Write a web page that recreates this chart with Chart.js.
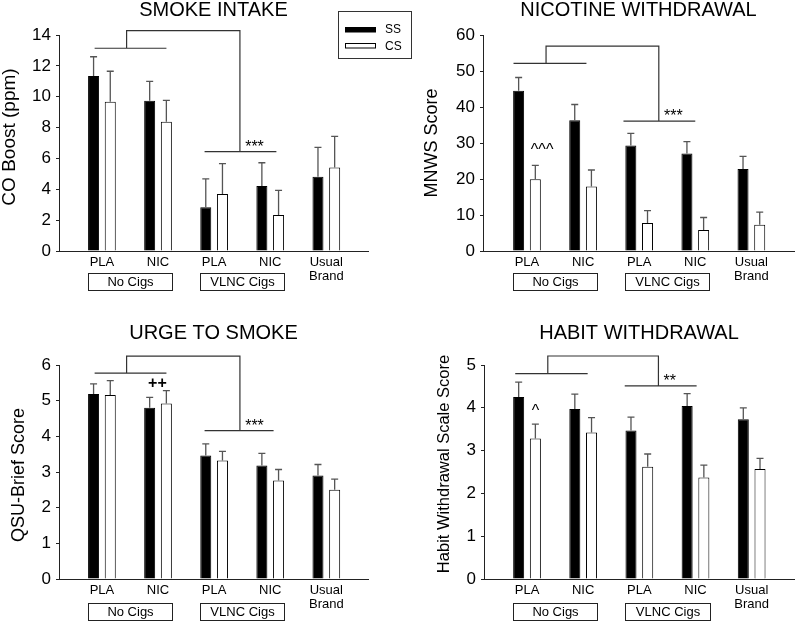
<!DOCTYPE html>
<html>
<head>
<meta charset="utf-8">
<script src="https://cdn.jsdelivr.net/npm/chart.js@4.4.1/dist/chart.umd.min.js"></script>
<style>
  html, body { margin: 0; padding: 0; background: #fff; }
  body { width: 797px; height: 622px; position: relative; overflow: hidden; }
  .panel { position: absolute; }
  canvas { display: block; }
</style>
</head>
<body>
<div class="panel" style="left:0;top:0"><canvas id="c1" width="420" height="311"></canvas></div>
<div class="panel" style="left:0;top:311px"><canvas id="c3" width="420" height="311"></canvas></div>
<div class="panel" style="left:400px;top:0"><canvas id="c2" width="397" height="311"></canvas></div>
<div class="panel" style="left:400px;top:311px"><canvas id="c4" width="397" height="311"></canvas></div>
<script>
const categories = ['PLA', 'NIC', 'PLA', 'NIC', ['Usual', 'Brand']];
const groupLabels = ['No Cigs', 'VLNC Cigs'];
const seriesNames = ['SS', 'CS'];

// smoke intake, CO boost (ppm)
const smokeSS = [11.34, 9.74, 2.83, 4.21, 4.82];
const smokeSSErr = [1.25, 1.25, 1.84, 1.51, 1.90];
const smokeCS = [9.68, 8.38, 3.69, 2.33, 5.42];
const smokeCSErr = [1.97, 1.38, 1.97, 1.60, 2.01];

// nicotine withdrawal, MNWS
const mnwsSS = [44.5, 36.3, 29.3, 27.1, 22.8];
const mnwsSSErr = [3.7, 4.4, 3.4, 3.3, 3.5];
const mnwsCS = [19.9, 17.9, 7.8, 5.8, 7.3];
const mnwsCSErr = [3.9, 4.6, 3.4, 3.5, 3.5];

// urge to smoke, QSU-Brief
const qsuSS = [5.19, 4.80, 3.46, 3.18, 2.90];
const qsuSSErr = [0.28, 0.29, 0.33, 0.34, 0.31];
const qsuCS = [5.16, 4.92, 3.32, 2.76, 2.50];
const qsuCSErr = [0.40, 0.36, 0.26, 0.31, 0.30];

// habit withdrawal scale
const habitSS = [4.25, 3.97, 3.47, 4.04, 3.73];
const habitSSErr = [0.35, 0.35, 0.31, 0.29, 0.27];
const habitCS = [3.28, 3.42, 2.62, 2.37, 2.57];
const habitCSErr = [0.34, 0.35, 0.30, 0.29, 0.25];

const FONT = "'Liberation Sans', Arial, sans-serif";

const panels = [
  { id: 'c1', title: 'SMOKE INTAKE', yTitle: 'CO Boost (ppm)', ss: smokeSS, ssErr: smokeSSErr, cs: smokeCS, csErr: smokeCSErr,
    yMax: 14, yStep: 2, xMin: -0.765, xMax: 4.743, yw: 59, padTop: 35, padRight: 52, xh: 60,
    titleY: 10, yTitleX: 9.5, yTitleY: 137, yTitleSize: 19, boxTop: 22, boxBot: 39,
    bracket: { left: [-0.13, 1.15, 13.14], stemL: 0.44, top: 14.28, stemR: 2.46, right: [1.83, 3.11, 6.44] },
    marks: [{ t: '***', x: 2.72, y: 6.44 }], legend: true },
  { id: 'c2', title: 'NICOTINE WITHDRAWAL', yTitle: 'MNWS Score', ss: mnwsSS, ssErr: mnwsSSErr, cs: mnwsCS, csErr: mnwsCSErr,
    yMax: 60, yStep: 10, xMin: -0.784, xMax: 4.76, yw: 83, padTop: 35, padRight: 3, xh: 60,
    titleY: 10, yTitleX: 32, yTitleY: 143, yTitleSize: 18, boxTop: 22, boxBot: 39,
    bracket: { left: [-0.24, 1.06, 52.1], stemL: 0.34, top: 56.9, stemR: 2.35, right: [1.72, 3.0, 36.1] },
    marks: [{ t: '***', x: 2.61, y: 36.1 }, { t: '^^^', x: 0.27, y: 26.8 }] },
  { id: 'c3', title: 'URGE TO SMOKE', yTitle: 'QSU-Brief Score', ss: qsuSS, ssErr: qsuSSErr, cs: qsuCS, csErr: qsuCSErr,
    yMax: 6, yStep: 1, xMin: -0.765, xMax: 4.743, yw: 59, padTop: 54, padRight: 52, xh: 43,
    titleY: 22.5, yTitleX: 19, yTitleY: 164, yTitleSize: 18, boxTop: 24, boxBot: 41,
    bracket: { left: [-0.13, 1.15, 5.77], stemL: 0.44, top: 6.25, stemR: 2.46, right: [1.83, 3.06, 4.16] },
    marks: [{ t: '***', x: 2.72, y: 4.16 }, { t: '++', x: 0.99, y: 5.36, bold: true }] },
  { id: 'c4', title: 'HABIT WITHDRAWAL', yTitle: 'Habit Withdrawal Scale Score', ss: habitSS, ssErr: habitSSErr, cs: habitCS, csErr: habitCSErr,
    yMax: 5, yStep: 1, xMin: -0.766, xMax: 4.754, yw: 84, padTop: 54, padRight: 3, xh: 43,
    titleY: 22.5, yTitleX: 44, yTitleY: 153, yTitleSize: 16.5, boxTop: 24, boxBot: 41,
    bracket: { left: [-0.21, 1.08, 4.8], stemL: 0.37, top: 5.21, stemR: 2.34, right: [1.74, 3.02, 4.51] },
    marks: [{ t: '**', x: 2.54, y: 4.51 }, { t: '^', x: 0.15, y: 3.81 }] }
];

const errorBars = {
  id: 'errorBars',
  afterDatasetsDraw(chart) {
    const ctx = chart.ctx, y = chart.scales.y;
    ctx.save();
    ctx.strokeStyle = '#555';
    ctx.lineWidth = 1.3;
    chart.data.datasets.forEach((ds, di) => {
      chart.getDatasetMeta(di).data.forEach((bar, i) => {
        const top = y.getPixelForValue(ds.data[i].y + ds.errors[i]);
        ctx.beginPath();
        ctx.moveTo(bar.x, bar.y);
        ctx.lineTo(bar.x, top);
        ctx.moveTo(bar.x - 3.5, top);
        ctx.lineTo(bar.x + 3.5, top);
        ctx.stroke();
      });
    });
    ctx.restore();
  }
};

const extras = {
  id: 'extras',
  afterDraw(chart, args, p) {
    const ctx = chart.ctx, xs = chart.scales.x, ys = chart.scales.y, area = chart.chartArea;
    const X = v => xs.getPixelForValue(v), Y = v => ys.getPixelForValue(v);
    ctx.save();
    ctx.fillStyle = '#000';

    // title
    ctx.font = '20px ' + FONT;
    ctx.textAlign = 'center';
    ctx.textBaseline = 'middle';
    ctx.fillText(p.title, (area.left + area.right) / 2, p.titleY);

    // y axis title
    ctx.save();
    ctx.translate(p.yTitleX, p.yTitleY);
    ctx.rotate(-Math.PI / 2);
    ctx.font = p.yTitleSize + 'px ' + FONT;
    ctx.fillText(p.yTitle, 0, 0);
    ctx.restore();

    // brackets
    const b = p.bracket;
    ctx.strokeStyle = '#333';
    ctx.lineWidth = 1.2;
    ctx.beginPath();
    ctx.moveTo(X(b.left[0]), Y(b.left[2]));
    ctx.lineTo(X(b.left[1]), Y(b.left[2]));
    ctx.moveTo(X(b.stemL), Y(b.left[2]));
    ctx.lineTo(X(b.stemL), Y(b.top));
    ctx.lineTo(X(b.stemR), Y(b.top));
    ctx.lineTo(X(b.stemR), Y(b.right[2]));
    ctx.moveTo(X(b.right[0]), Y(b.right[2]));
    ctx.lineTo(X(b.right[1]), Y(b.right[2]));
    ctx.stroke();

    // significance marks
    ctx.textBaseline = 'alphabetic';
    p.marks.forEach(m => {
      ctx.font = (m.bold ? 'bold ' : '') + '16px ' + FONT;
      ctx.fillText(m.t, X(m.x), Y(m.y));
    });

    // group boxes under the axis
    const base = area.bottom;
    ctx.font = '13px ' + FONT;
    ctx.textBaseline = 'middle';
    ctx.lineWidth = 1;
    ctx.strokeStyle = '#222';
    groupLabels.forEach((g, gi) => {
      const c = gi * 2 + 0.5;
      const l = Math.round(X(c - 0.75)) + 0.5, r = Math.round(X(c + 0.75)) + 0.5;
      const t = base + p.boxTop + 0.5, bt = base + p.boxBot + 0.5;
      ctx.strokeRect(l, t, r - l, bt - t);
      ctx.fillText(g, (l + r) / 2, (t + bt) / 2 + 0.5);
    });

    // legend
    if (p.legend) {
      ctx.strokeStyle = '#333';
      ctx.strokeRect(338.5, 11.5, 73, 47);
      ctx.fillStyle = '#000';
      ctx.fillRect(345, 27, 31, 5.5);
      ctx.fillStyle = '#fff';
      ctx.fillRect(345.5, 43.5, 30, 4.5);
      ctx.strokeStyle = '#000';
      ctx.strokeRect(345.5, 43.5, 30, 4.5);
      ctx.fillStyle = '#000';
      ctx.font = '12px ' + FONT;
      ctx.textAlign = 'left';
      ctx.fillText(seriesNames[0], 385, 30);
      ctx.fillText(seriesNames[1], 385, 46.5);
    }
    ctx.restore();
  }
};

panels.forEach(p => {
  const idx = categories.map((c, i) => i);
  new Chart(document.getElementById(p.id), {
    type: 'bar',
    data: {
      datasets: [
        { label: seriesNames[0], data: idx.map(i => ({ x: i, y: p.ss[i] })), errors: p.ssErr,
          backgroundColor: '#000', borderColor: '#000', borderWidth: 1 },
        { label: seriesNames[1], data: idx.map(i => ({ x: i, y: p.cs[i] })), errors: p.csErr,
          backgroundColor: '#fff', borderColor: '#000', borderWidth: 1 }
      ]
    },
    options: {
      responsive: false,
      animation: false,
      events: [],
      categoryPercentage: 0.595,
      barPercentage: 0.66,
      layout: { padding: { top: p.padTop, right: p.padRight, left: 0, bottom: 0 } },
      plugins: { legend: { display: false }, tooltip: { enabled: false }, title: { display: false }, extras: p },
      scales: {
        x: {
          type: 'linear', min: p.xMin, max: p.xMax, offset: false,
          afterBuildTicks: s => { s.ticks = idx.map(v => ({ value: v })); },
          afterFit: s => { s.height = p.xh; },
          grid: { display: false, drawTicks: false },
          border: { display: true, color: '#222', width: 1 },
          ticks: {
            autoSkip: false, maxRotation: 0, padding: 4, color: '#000',
            font: { family: FONT, size: 13, lineHeight: 1.1 },
            callback: v => categories[v]
          }
        },
        y: {
          min: 0, max: p.yMax,
          afterFit: s => { s.width = p.yw; },
          grid: { drawOnChartArea: false, drawTicks: true, tickLength: 3, color: '#222' },
          border: { display: true, color: '#222', width: 1 },
          ticks: { stepSize: p.yStep, padding: 5, color: '#000', font: { family: FONT, size: 17 } }
        }
      }
    },
    plugins: [errorBars, extras]
  });
});
</script>
</body>
</html>
